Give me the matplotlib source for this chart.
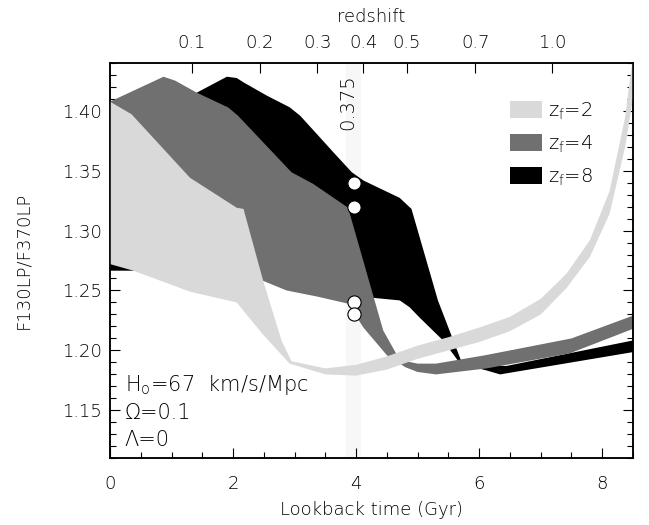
import matplotlib
matplotlib.use('Agg')
import matplotlib.pyplot as plt
from matplotlib.patches import Patch
from matplotlib.ticker import MultipleLocator, FixedLocator

# zf=2 band (light grey): upper and lower edges
zf2UpperX = [0, 0.35, 1.30, 2.06, 2.17, 2.49, 2.79, 2.95, 3.5, 4.0, 4.5, 5.0, 5.5, 6.0, 6.5, 7.0, 7.42, 7.8, 8.12, 8.37, 8.5]
zf2UpperY = [1.4075, 1.397, 1.344, 1.319, 1.318, 1.258, 1.208, 1.191, 1.185, 1.188, 1.195, 1.204, 1.211, 1.219, 1.228, 1.243, 1.264, 1.292, 1.333, 1.394, 1.445]
zf2LowerX = [0, 0.38, 1.30, 2.06, 2.49, 2.92, 3.5, 4.0, 4.5, 5.0, 5.5, 6.0, 6.5, 7.0, 7.42, 7.8, 8.12, 8.37, 8.5]
zf2LowerY = [1.272, 1.2665, 1.249, 1.240, 1.213, 1.189, 1.180, 1.179, 1.184, 1.193, 1.200, 1.207, 1.216, 1.230, 1.252, 1.278, 1.314, 1.369, 1.41]

# zf=4 band (grey)
zf4UpperX = [0, 0.87, 1.06, 1.41, 1.92, 2.08, 2.95, 3.30, 3.87, 4.44, 4.71, 5.0, 5.3, 6.1, 7.5, 8.5]
zf4UpperY = [1.4075, 1.4283, 1.425, 1.415, 1.4027, 1.3958, 1.3486, 1.339, 1.319, 1.2167, 1.192, 1.189, 1.189, 1.196, 1.21, 1.229]
zf4LowerX = [0, 1.3, 2.06, 2.49, 2.87, 3.36, 3.87, 4.12, 4.50, 4.8, 5.0, 5.3, 6.12, 7.47, 8.5]
zf4LowerY = [1.30, 1.28, 1.265, 1.258, 1.25, 1.245, 1.239, 1.219, 1.196, 1.186, 1.182, 1.180, 1.185, 1.1975, 1.218]

# zf=8 band (black)
zf8UpperX = [0, 0.87, 1.41, 1.90, 2.06, 2.17, 2.55, 2.92, 3.09, 3.36, 3.63, 3.93, 4.12, 4.71, 4.90, 5.33, 5.71, 6.0, 6.44, 8.5]
zf8UpperY = [1.36, 1.395, 1.415, 1.4283, 1.4272, 1.4236, 1.4125, 1.4028, 1.3958, 1.3806, 1.3653, 1.3486, 1.3417, 1.3272, 1.318, 1.2417, 1.191, 1.188, 1.187, 1.2083]
zf8LowerX = [0, 0.38, 1.3, 2.06, 2.49, 2.87, 3.36, 3.87, 4.17, 4.71, 4.87, 5.04, 5.42, 5.69, 6.12, 6.34, 8.5]
zf8LowerY = [1.2665, 1.2665, 1.262, 1.262, 1.2595, 1.2525, 1.2475, 1.2444, 1.2444, 1.2417, 1.236, 1.227, 1.208, 1.189, 1.1833, 1.180, 1.1986]

# observed points at z=0.375
obsX = [3.96, 3.96, 3.96, 3.96]
obsY = [1.34, 1.32, 1.24, 1.23]
zBandLo = 3.84
zBandHi = 4.08

# redshift axis: lookback time of each labelled redshift
zLabels = ['0.1', '0.2', '0.3', '0.4', '0.5', '0.7', '1.0']
zLookback = [1.33, 2.43, 3.37, 4.12, 4.82, 5.94, 7.18]

bandLabels = [r'z$_\mathregular{f}$=2', r'z$_\mathregular{f}$=4', r'z$_\mathregular{f}$=8']
bandColors = ['#d9d9d9', '#707070', '#000000']

if __name__ == '__main__':
  fs = 13
  plt.rcParams['font.family'] = 'DejaVu Sans'
  plt.rcParams['font.weight'] = 'light'
  plt.rcParams['axes.labelweight'] = 'light'
  plt.rcParams['axes.linewidth'] = 1.1

  fig = plt.figure(figsize=(6.49, 5.25), dpi=100)
  ax1 = fig.add_axes([0.1695, 0.127, 0.8058, 0.7536])  # [left, bottom, width, height]

  ax1.axvspan(zBandLo, zBandHi, color='#f7f7f7', lw=0, zorder=0)

  bands = [(zf8UpperX, zf8UpperY, zf8LowerX, zf8LowerY, bandColors[2]),
           (zf4UpperX, zf4UpperY, zf4LowerX, zf4LowerY, bandColors[1]),
           (zf2UpperX, zf2UpperY, zf2LowerX, zf2LowerY, bandColors[0])]
  for k, (ux, uy, lx, ly, col) in enumerate(bands):
    px = list(ux) + list(lx[::-1])
    py = list(uy) + list(ly[::-1])
    ax1.fill(px, py, color=col, lw=0, zorder=1 + k)

  ax1.plot(obsX, obsY, 'o', ms=9.5, mfc='white', mec='black', mew=0.8, zorder=6)

  ax1.text(3.87, 1.407, '0.375', rotation=90, ha='center', va='center', fontsize=14, zorder=7)

  ax1.text(0.24, 1.1708, r'H$_\mathregular{o}$=67  km/s/Mpc', fontsize=15, va='center', zorder=7)
  ax1.text(0.24, 1.1475, u'\u03a9=0.1', fontsize=15, va='center', zorder=7)
  ax1.text(0.24, 1.125, u'\u039b=0', fontsize=15, va='center', zorder=7)

  handles = [Patch(facecolor=c, edgecolor='none') for c in bandColors]
  ax1.legend(handles, bandLabels, loc='upper left', bbox_to_anchor=(0.765, 0.905),
             frameon=False, fontsize=14, handlelength=1.63, handleheight=0.93,
             handletextpad=0.3, labelspacing=0.6, borderpad=0, borderaxespad=0)

  ax1.set_xlim([0, 8.5])
  ax1.set_ylim([1.11, 1.44])
  ax1.xaxis.set_major_locator(FixedLocator([0, 2, 4, 6, 8]))
  ax1.xaxis.set_minor_locator(MultipleLocator(0.5))
  ax1.yaxis.set_major_locator(FixedLocator([1.15, 1.20, 1.25, 1.30, 1.35, 1.40]))
  ax1.yaxis.set_minor_locator(MultipleLocator(0.01))
  ax1.set_yticklabels(['1.15', '1.20', '1.25', '1.30', '1.35', '1.40'])
  ax1.tick_params(which='both', direction='in', right=True, top=False, width=0.8)
  ax1.tick_params(which='major', length=7)
  ax1.tick_params(which='minor', length=4)
  ax1.tick_params(axis='x', labelsize=fs, pad=12)
  ax1.tick_params(axis='y', labelsize=fs, pad=6)

  ax1.set_xlabel('Lookback time (Gyr)', fontsize=fs, labelpad=6)
  ax1.set_ylabel('F130LP/F370LP', fontsize=fs, labelpad=21)

  # redshift on top
  ax2 = ax1.twiny()
  ax2.set_xlim(ax1.get_xlim())
  ax2.set_xticks(zLookback)
  ax2.set_xticklabels(zLabels)
  ax2.xaxis.set_minor_locator(FixedLocator([]))
  ax2.tick_params(axis='x', direction='in', length=7, width=0.8, labelsize=fs, pad=8)
  ax2.set_xlabel('redshift', fontsize=fs, labelpad=8)

  plt.savefig('out.png', dpi=100)
  plt.close(fig)
